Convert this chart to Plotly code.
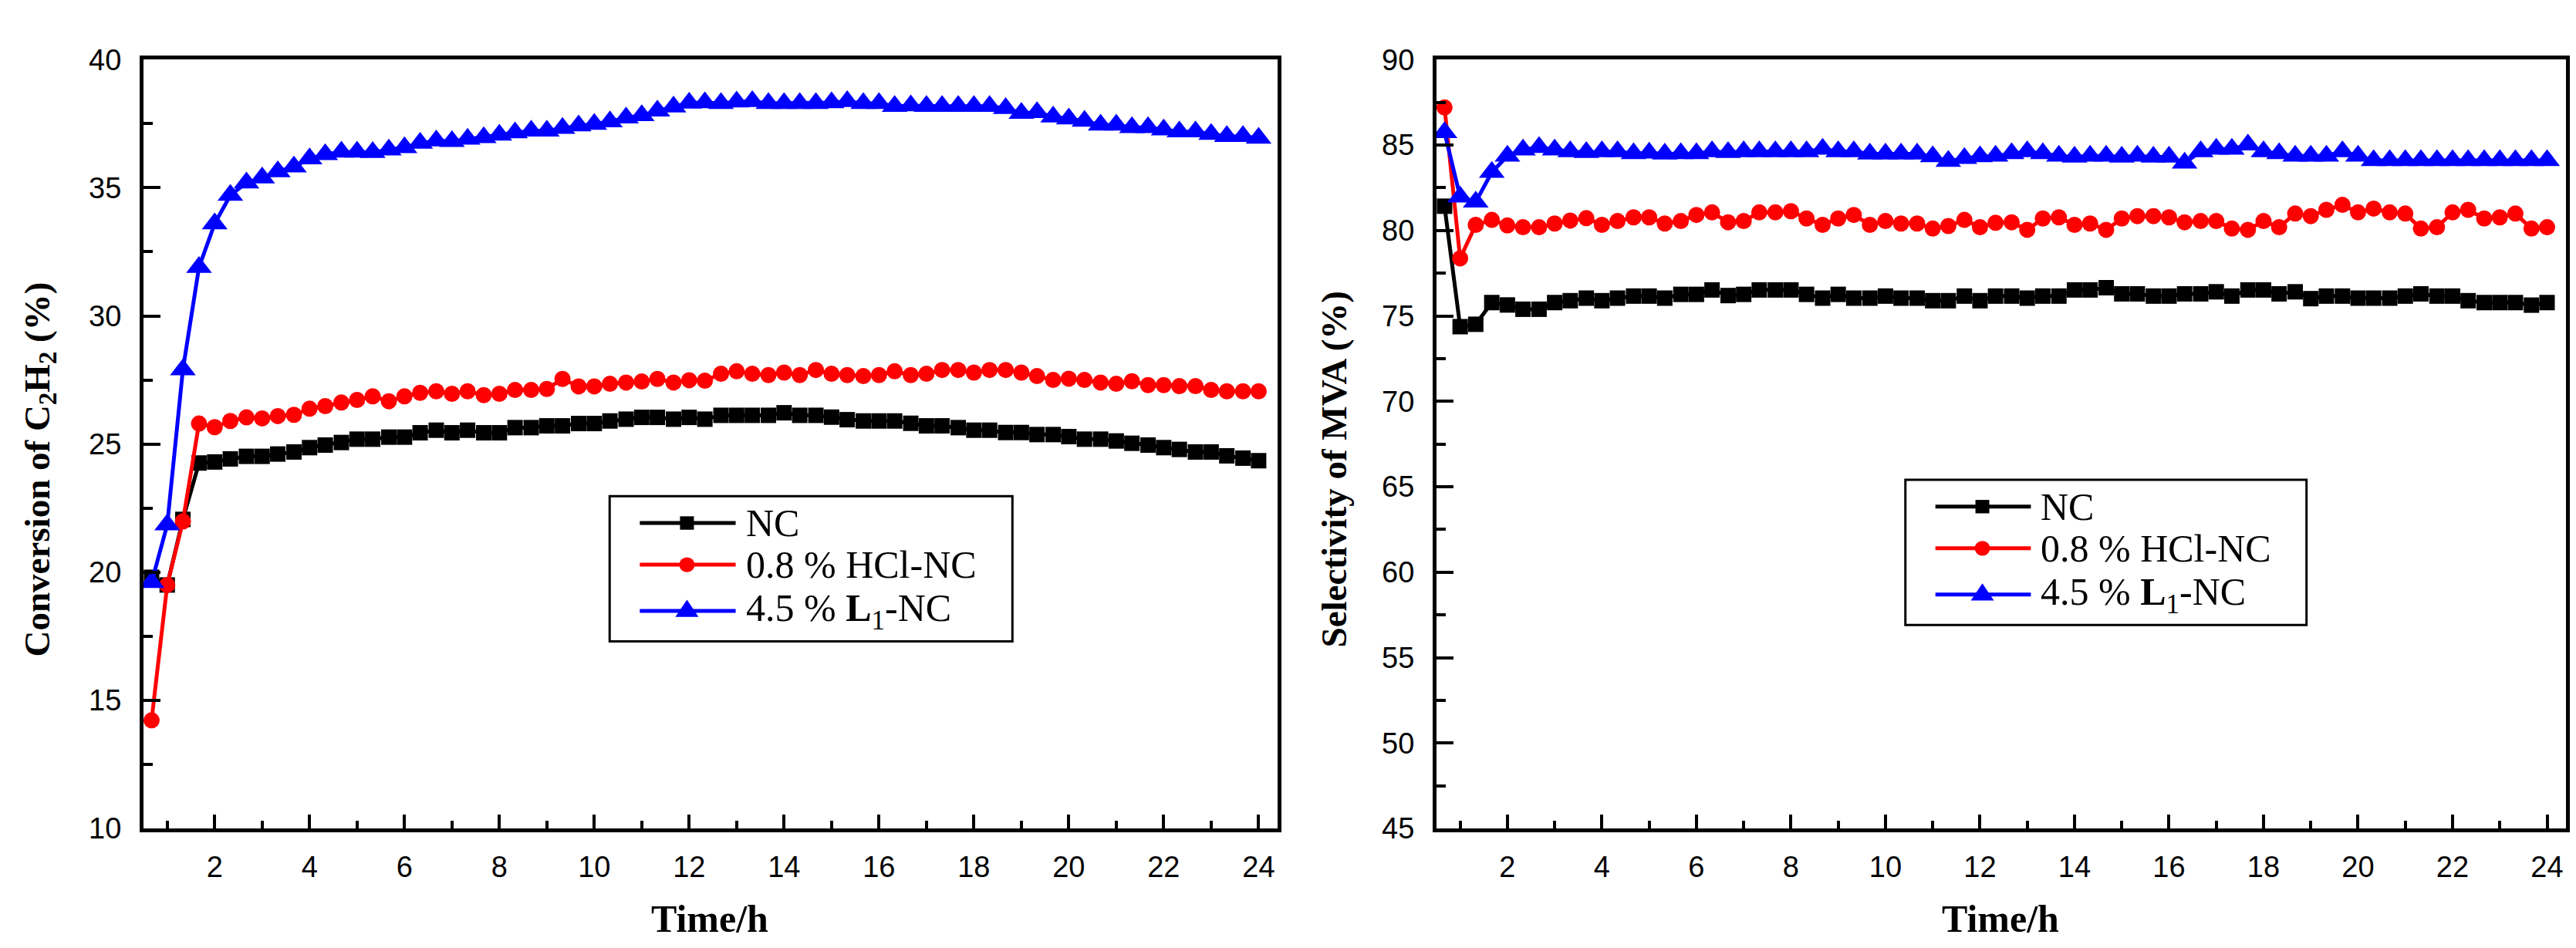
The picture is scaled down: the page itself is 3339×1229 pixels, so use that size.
import plotly.graph_objects as go

# sampling times (h), one reading every 20 min
time_h = [0.67, 1.0, 1.33, 1.67, 2.0, 2.33, 2.67, 3.0, 3.33, 3.67, 4.0, 4.33, 4.67, 5.0,
          5.33, 5.67, 6.0, 6.33, 6.67, 7.0, 7.33, 7.67, 8.0, 8.33, 8.67, 9.0, 9.33, 9.67,
          10.0, 10.33, 10.67, 11.0, 11.33, 11.67, 12.0, 12.33, 12.67, 13.0, 13.33, 13.67,
          14.0, 14.33, 14.67, 15.0, 15.33, 15.67, 16.0, 16.33, 16.67, 17.0, 17.33, 17.67,
          18.0, 18.33, 18.67, 19.0, 19.33, 19.67, 20.0, 20.33, 20.67, 21.0, 21.33, 21.67,
          22.0, 22.33, 22.67, 23.0, 23.33, 23.67, 24.0]

names = ["NC", "0.8 % HCl-NC", "4.5 % <b>L</b><sub>1</sub>-NC"]

# conversion of C2H2 (%)
conv_nc = [19.8, 19.5, 22.06, 24.26, 24.3, 24.42, 24.52, 24.52, 24.61, 24.69, 24.86, 24.96,
           25.06, 25.19, 25.19, 25.27, 25.27, 25.44, 25.54, 25.44, 25.54, 25.44, 25.44, 25.64,
           25.64, 25.71, 25.71, 25.8, 25.8, 25.9, 25.97, 26.04, 26.04, 25.97, 26.04, 25.97,
           26.12, 26.12, 26.12, 26.12, 26.22, 26.12, 26.12, 26.05, 25.95, 25.9, 25.9, 25.9,
           25.81, 25.71, 25.71, 25.64, 25.54, 25.54, 25.45, 25.45, 25.37, 25.37, 25.29, 25.19,
           25.19, 25.12, 25.03, 24.96, 24.86, 24.79, 24.69, 24.69, 24.54, 24.45, 24.35]
conv_hcl = [14.22, 19.5, 21.98, 25.8, 25.66, 25.9, 26.04, 26.0, 26.09, 26.14, 26.38, 26.48,
            26.62, 26.72, 26.86, 26.67, 26.86, 27.0, 27.06, 26.96, 27.06, 26.91, 26.96, 27.11,
            27.11, 27.15, 27.54, 27.25, 27.25, 27.35, 27.4, 27.44, 27.54, 27.4, 27.49, 27.47,
            27.74, 27.84, 27.74, 27.69, 27.79, 27.69, 27.89, 27.74, 27.69, 27.65, 27.69, 27.84,
            27.69, 27.74, 27.89, 27.89, 27.79, 27.89, 27.89, 27.79, 27.65, 27.5, 27.55, 27.5,
            27.4, 27.35, 27.45, 27.3, 27.3, 27.26, 27.26, 27.11, 27.06, 27.06, 27.06]
conv_l1 = [19.6, 21.85, 27.9, 31.9, 33.6, 34.71, 35.19, 35.39, 35.63, 35.82, 36.13, 36.3,
           36.4, 36.4, 36.38, 36.48, 36.57, 36.74, 36.83, 36.81, 36.9, 36.96, 37.06, 37.15,
           37.22, 37.22, 37.32, 37.42, 37.48, 37.58, 37.73, 37.82, 38.0, 38.16, 38.31, 38.32,
           38.29, 38.35, 38.37, 38.29, 38.29, 38.29, 38.29, 38.32, 38.37, 38.29, 38.29, 38.18,
           38.2, 38.18, 38.18, 38.18, 38.18, 38.18, 38.1, 37.91, 37.94, 37.77, 37.69, 37.6,
           37.45, 37.45, 37.35, 37.35, 37.26, 37.19, 37.19, 37.09, 37.01, 37.01, 36.94]

# selectivity of MVA (%)
sel_nc = [81.42, 74.37, 74.51, 75.78, 75.64, 75.39, 75.39, 75.78, 75.89, 76.04, 75.89, 76.04,
          76.16, 76.16, 76.04, 76.26, 76.26, 76.52, 76.19, 76.26, 76.52, 76.52, 76.52, 76.26,
          76.04, 76.26, 76.04, 76.04, 76.16, 76.04, 76.04, 75.89, 75.89, 76.16, 75.89, 76.16,
          76.16, 76.04, 76.16, 76.16, 76.52, 76.52, 76.65, 76.29, 76.29, 76.16, 76.16, 76.29,
          76.29, 76.41, 76.16, 76.52, 76.52, 76.29, 76.41, 76.01, 76.16, 76.16, 76.04, 76.04,
          76.04, 76.16, 76.29, 76.16, 76.16, 75.89, 75.78, 75.78, 75.78, 75.63, 75.78]
sel_hcl = [87.2, 78.37, 80.33, 80.62, 80.29, 80.19, 80.19, 80.41, 80.58, 80.72, 80.33, 80.55,
           80.77, 80.77, 80.41, 80.55, 80.91, 81.06, 80.48, 80.55, 81.06, 81.06, 81.13, 80.7,
           80.33, 80.7, 80.91, 80.33, 80.55, 80.41, 80.41, 80.11, 80.26, 80.62, 80.19, 80.45,
           80.48, 80.04, 80.7, 80.77, 80.33, 80.41, 80.04, 80.7, 80.84, 80.84, 80.77, 80.48,
           80.55, 80.55, 80.11, 80.04, 80.55, 80.19, 80.99, 80.84, 81.21, 81.5, 81.06, 81.28,
           81.06, 80.99, 80.11, 80.19, 81.06, 81.21, 80.7, 80.77, 80.99, 80.11, 80.19]
sel_l1 = [85.74, 81.96, 81.67, 83.41, 84.36, 84.72, 84.87, 84.72, 84.62, 84.57, 84.62, 84.62,
          84.51, 84.54, 84.48, 84.51, 84.51, 84.62, 84.57, 84.62, 84.62, 84.62, 84.62, 84.62,
          84.77, 84.62, 84.62, 84.48, 84.48, 84.48, 84.48, 84.33, 84.05, 84.22, 84.33, 84.36,
          84.51, 84.62, 84.51, 84.36, 84.3, 84.36, 84.36, 84.3, 84.36, 84.3, 84.3, 83.95,
          84.62, 84.77, 84.77, 85.01, 84.62, 84.51, 84.36, 84.36, 84.36, 84.62, 84.36, 84.1,
          84.1, 84.1, 84.1, 84.1, 84.1, 84.1, 84.1, 84.1, 84.1, 84.1, 84.1]

colors = ["#000000", "#ff0000", "#0000ff"]
symbols = ["square", "circle", "triangle-up"]
msizes = [20, 21, 29]

SERIF = "Liberation Serif, Times New Roman, serif"
SANS = "Liberation Sans, Arial, sans-serif"

W, H = 3339, 1229
PLOT_TOP, PLOT_BOTTOM = 50, 1082
PW, PH = 1467.0, PLOT_BOTTOM - PLOT_TOP

fig = go.Figure()

panels = [
    ("x", "y", [conv_nc, conv_hcl, conv_l1]),
    ("x2", "y2", [sel_nc, sel_hcl, sel_l1]),
]
for xa, ya, series in panels:
    for name, vals, col, sym, ms in zip(names, series, colors, symbols, msizes):
        fig.add_trace(go.Scatter(
            x=time_h, y=vals, mode="lines+markers", name=name,
            xaxis=xa, yaxis=ya, showlegend=False,
            line=dict(color=col, width=5),
            marker=dict(symbol=sym, size=ms, color=col, line=dict(width=0)),
        ))


def add_box_legend(xa, ya, box_left, box_top):
    """Framed legend drawn inside one subplot, positions given in page pixels."""
    plot_left = {"x": 178, "x2": 1854}[xa]
    xref, yref = xa + " domain", ya + " domain"

    def fx(px):
        return (px - plot_left) / PW

    def fy(py):
        return (PLOT_BOTTOM - py) / PH

    fig.add_shape(type="rect", xref=xref, yref=yref,
                  x0=fx(box_left), x1=fx(box_left + 521),
                  y0=fy(box_top), y1=fy(box_top + 195),
                  line=dict(color="black", width=3), fillcolor="white", layer="above")
    for i, (name, col, sym) in enumerate(zip(names, colors, symbols)):
        cy = box_top + [36, 92, 154][i]
        cx = box_left + 100
        fig.add_shape(type="line", xref=xref, yref=yref,
                      x0=fx(box_left + 39), x1=fx(box_left + 163), y0=fy(cy), y1=fy(cy),
                      line=dict(color=col, width=5), layer="above")
        if sym == "square":
            fig.add_shape(type="rect", xref=xref, yref=yref,
                          x0=fx(cx - 9), x1=fx(cx + 9), y0=fy(cy - 9), y1=fy(cy + 9),
                          fillcolor=col, line=dict(width=0), layer="above")
        elif sym == "circle":
            fig.add_shape(type="circle", xref=xref, yref=yref,
                          x0=fx(cx - 10), x1=fx(cx + 10), y0=fy(cy - 10), y1=fy(cy + 10),
                          fillcolor=col, line=dict(width=0), layer="above")
        else:
            path = "M{:.5f},{:.5f} L{:.5f},{:.5f} L{:.5f},{:.5f} Z".format(
                fx(cx - 15), fy(cy + 8), fx(cx + 15), fy(cy + 8), fx(cx), fy(cy - 15))
            fig.add_shape(type="path", xref=xref, yref=yref, path=path,
                          fillcolor=col, line=dict(width=0), layer="above")
        fig.add_annotation(text=name, xref=xref, yref=yref,
                           x=fx(box_left + 174), y=fy(cy), xanchor="left", yanchor="middle",
                           showarrow=False, font=dict(family=SERIF, size=50, color="black"))


axis_common = dict(
    showline=True, linecolor="black", linewidth=5, mirror=True,
    ticks="inside", tickcolor="black", tickwidth=4,
    showgrid=False, zeroline=False,
    tickfont=dict(family=SANS, size=38, color="black"),
)

x_common = dict(axis_common, range=[0.5, 24.4], tick0=0, dtick=2, ticklen=18,
                ticklabelstandoff=12,
                minor=dict(ticks="inside", dtick=1, tick0=0, ticklen=10, tickwidth=4,
                           tickcolor="black"))

fig.update_layout(
    width=W, height=H,
    margin=dict(l=0, r=0, t=0, b=0),
    paper_bgcolor="white", plot_bgcolor="white",
    showlegend=False,
    xaxis=dict(x_common, domain=[178 / W, 1648 / W], anchor="y"),
    xaxis2=dict(x_common, domain=[1854 / W, 3318 / W], anchor="y2"),
    yaxis=dict(axis_common, domain=[1 - PLOT_BOTTOM / H, 1 - PLOT_TOP / H], anchor="x",
               range=[10, 40], tick0=10, dtick=5, ticklen=22, ticklabelstandoff=16,
               minor=dict(ticks="inside", dtick=2.5, tick0=10, ticklen=12, tickwidth=4,
                          tickcolor="black")),
    yaxis2=dict(axis_common, domain=[1 - PLOT_BOTTOM / H, 1 - PLOT_TOP / H], anchor="x2",
                range=[45, 90], tick0=45, dtick=5, ticklen=22, ticklabelstandoff=16,
                minor=dict(ticks="inside", dtick=2.5, tick0=45, ticklen=12, tickwidth=4,
                           tickcolor="black")),
)

add_box_legend("x", "y", 781, 636)
add_box_legend("x2", "y2", 2463, 614)

title_font = dict(family=SERIF, size=47, color="black")
fig.add_annotation(text="<b>Conversion of C<sub>2</sub>H<sub>2</sub> (%)</b>",
                   x=43 / W, y=1 - 600 / H, xref="paper", yref="paper",
                   xanchor="center", yanchor="middle",
                   textangle=-90, showarrow=False, font=title_font)
fig.add_annotation(text="<b>Selectivity of MVA (%)</b>",
                   x=1721 / W, y=1 - 600 / H, xref="paper", yref="paper",
                   xanchor="center", yanchor="middle",
                   textangle=-90, showarrow=False, font=title_font)
xt_font = dict(family=SERIF, size=50, color="black")
fig.add_annotation(text="<b>Time/h</b>", x=912 / W, y=1 - 1203 / H,
                   xref="paper", yref="paper", xanchor="center", yanchor="middle",
                   showarrow=False, font=xt_font)
fig.add_annotation(text="<b>Time/h</b>", x=2585 / W, y=1 - 1203 / H,
                   xref="paper", yref="paper", xanchor="center", yanchor="middle",
                   showarrow=False, font=xt_font)

fig.write_html("out.html")
